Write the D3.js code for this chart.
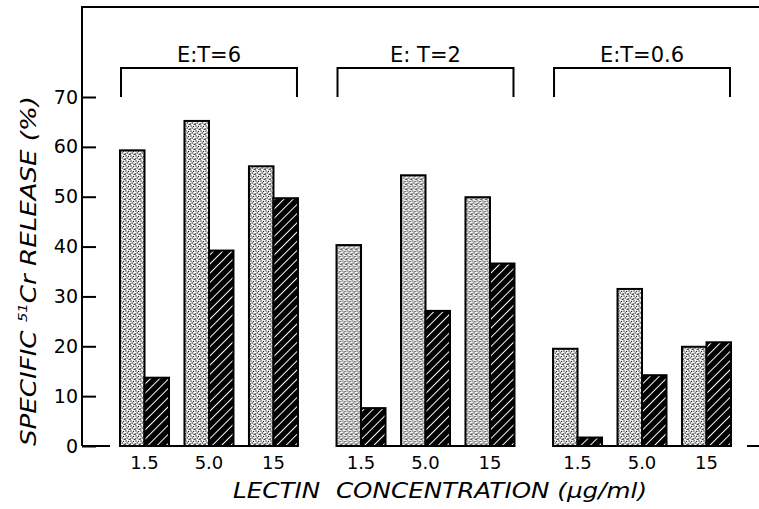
<!DOCTYPE html>
<html>
<head>
<meta charset="utf-8">
<script src="https://cdn.jsdelivr.net/npm/d3@7"></script>
<style>
  body { margin: 0; background: #fff; }
  text { font-family: 'DejaVu Sans', sans-serif; fill: #000; }
</style>
</head>
<body>
<div id="chart"></div>
<script>
// chart values
let groups = ['E:T=6', 'E: T=2', 'E:T=0.6'];
let concentrations = ['1.5', '5.0', '15'];
let stippled = [
  [59.3, 65.2, 56.1],
  [40.3, 54.3, 49.9],
  [19.5, 31.5, 19.9],
];
let hatched = [
  [13.7, 39.2, 49.7],
  [7.6, 27.1, 36.6],
  [1.7, 14.2, 20.8],
];
let yTicks = [0, 10, 20, 30, 40, 50, 60, 70];

const drawChart = () => {
  let width = 759;
  let height = 509;
  let margin = { top: 7, left: 82, right: 0, bottom: 63 };

  let svg = d3
    .select('#chart')
    .append('svg')
    .attr('width', width)
    .attr('height', height);

  let defs = svg.append('defs');

  // light dotted fill
  let dots = defs
    .append('pattern')
    .attr('id', 'stipple')
    .attr('patternUnits', 'userSpaceOnUse')
    .attr('width', 5)
    .attr('height', 5);
  dots.append('rect').attr('width', 5).attr('height', 5).attr('fill', '#fff');
  [[1, 1], [3.5, 1.5], [2.2, 3], [0.5, 4], [4.2, 4.3]].forEach((p) => {
    dots.append('circle').attr('cx', p[0]).attr('cy', p[1]).attr('r', 0.75).attr('fill', '#222');
  });

  // black with white diagonal lines
  let hatch = defs
    .append('pattern')
    .attr('id', 'hatch')
    .attr('patternUnits', 'userSpaceOnUse')
    .attr('width', 6.5)
    .attr('height', 6.5)
    .attr('patternTransform', 'rotate(45)');
  hatch.append('rect').attr('width', 6.5).attr('height', 6.5).attr('fill', '#000');
  hatch
    .append('line')
    .attr('x1', 3.25).attr('y1', 0).attr('x2', 3.25).attr('y2', 6.5)
    .attr('stroke', '#fff')
    .attr('stroke-width', 1);

  let y = d3.scaleLinear().domain([0, 70]).range([446, 97]);

  let xGroup = d3
    .scaleBand()
    .domain(groups)
    .range([120, 731])
    .paddingInner(0.178)
    .paddingOuter(0);

  let xConc = d3
    .scaleBand()
    .domain(concentrations)
    .range([0, xGroup.bandwidth()])
    .paddingInner(0.24)
    .paddingOuter(0);

  let xSeries = d3
    .scaleBand()
    .domain(['stippled', 'hatched'])
    .range([0, xConc.bandwidth()]);

  // frame: left axis line and top border
  svg
    .append('path')
    .attr('d', `M${margin.left},${y(0)}V${margin.top}H${width}`)
    .attr('fill', 'none')
    .attr('stroke', '#000')
    .attr('stroke-width', 2);

  // y axis with ticks pointing inward
  let yAxis = d3
    .axisLeft(y)
    .tickValues(yTicks)
    .tickSize(-14)
    .tickSizeOuter(0)
    .tickPadding(4);

  let yG = svg
    .append('g')
    .attr('transform', `translate(${margin.left},0)`)
    .call(yAxis);
  yG.select('.domain').remove();
  yG.selectAll('.tick line').attr('stroke', '#000').attr('stroke-width', 2);
  yG.selectAll('.tick text')
    .attr('font-size', 19)
    .attr('font-family', "'DejaVu Sans', sans-serif")
    .attr('fill', '#000');

  // baseline stubs
  svg
    .append('line')
    .attr('x1', margin.left).attr('x2', 110)
    .attr('y1', y(0)).attr('y2', y(0))
    .attr('stroke', '#000').attr('stroke-width', 2);
  svg
    .append('line')
    .attr('x1', 747).attr('x2', width)
    .attr('y1', y(0)).attr('y2', y(0))
    .attr('stroke', '#000').attr('stroke-width', 2);

  groups.forEach((g, gi) => {
    let gx = xGroup(g);
    let grp = svg.append('g').attr('transform', `translate(${gx},0)`);

    // bracket and title
    grp
      .append('path')
      .attr('d', `M1,${y(70)}V68H${xGroup.bandwidth() - 1}V${y(70)}`)
      .attr('fill', 'none')
      .attr('stroke', '#000')
      .attr('stroke-width', 2);
    grp
      .append('text')
      .attr('x', xGroup.bandwidth() / 2)
      .attr('y', 62)
      .attr('text-anchor', 'middle')
      .attr('font-size', 21)
      .text(g);

    // group baseline
    grp
      .append('line')
      .attr('x1', 0).attr('x2', xGroup.bandwidth())
      .attr('y1', y(0)).attr('y2', y(0))
      .attr('stroke', '#000').attr('stroke-width', 2);

    concentrations.forEach((c, ci) => {
      let cx = xConc(c);
      let vals = [
        { key: 'stippled', v: stippled[gi][ci], fill: 'url(#stipple)' },
        { key: 'hatched', v: hatched[gi][ci], fill: 'url(#hatch)' },
      ];
      grp
        .selectAll(`.bar-${ci}`)
        .data(vals)
        .enter()
        .append('rect')
        .attr('class', `bar-${ci}`)
        .attr('x', (d) => cx + xSeries(d.key))
        .attr('y', (d) => y(d.v))
        .attr('width', xSeries.bandwidth())
        .attr('height', (d) => y(0) - y(d.v))
        .attr('fill', (d) => d.fill)
        .attr('stroke', '#000')
        .attr('stroke-width', 2);

      grp
        .append('text')
        .attr('x', cx + xConc.bandwidth() / 2)
        .attr('y', 469)
        .attr('text-anchor', 'middle')
        .attr('font-size', 18)
        .text(c);
    });
  });

  // axis titles
  let yTitle = svg
    .append('text')
    .attr('transform', 'translate(36,271) rotate(-90)')
    .attr('text-anchor', 'middle')
    .attr('font-size', 21)
    .attr('font-style', 'italic')
    .attr('textLength', 350)
    .attr('lengthAdjust', 'spacingAndGlyphs');
  yTitle.append('tspan').text('SPECIFIC ');
  yTitle.append('tspan').attr('font-size', 12).attr('dy', -9).text('51');
  yTitle.append('tspan').attr('dy', 9).text('Cr RELEASE (%)');

  svg
    .append('text')
    .attr('x', 440)
    .attr('y', 498)
    .attr('text-anchor', 'middle')
    .attr('font-size', 21)
    .attr('font-style', 'italic')
    .attr('textLength', 414)
    .attr('lengthAdjust', 'spacingAndGlyphs')
    .attr('xml:space', 'preserve')
    .text('LECTIN  CONCENTRATION (\u03bcg/ml)');
};

drawChart();
</script>
</body>
</html>
